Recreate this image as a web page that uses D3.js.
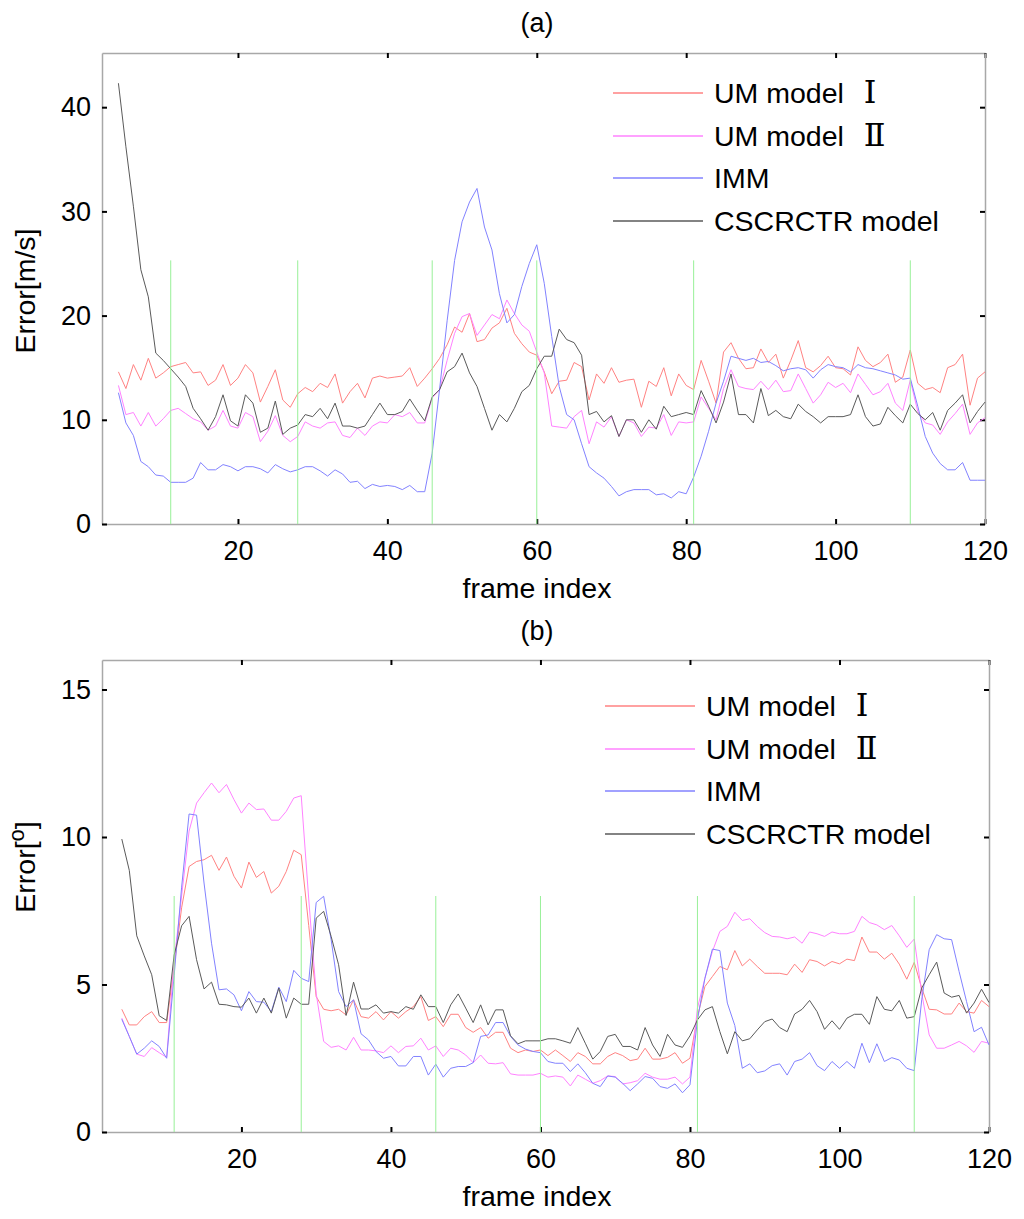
<!DOCTYPE html>
<html>
<head>
<meta charset="utf-8">
<script src="https://cdn.jsdelivr.net/npm/d3@7"></script>
<style>
  body { margin: 0; background: #fff; }
  text { font-family: "Liberation Sans", Arial, sans-serif; fill: #000; }
</style>
</head>
<body>
<script>
const width = 1024, height = 1219;

// frame index of every sample (4 .. 120)
const frames = d3.range(4, 121);
const switchFrames = [11, 28, 46, 60, 81, 110];
const seriesNames = ["UM model ", "UM model ", "IMM", "CSCRCTR model"];
const seriesRoman = ["Ⅰ", "Ⅱ", "", ""];
const seriesColors = ["#ff8282", "#ff82ff", "#8282ff", "#5a5a5a"];

// (a) velocity error [m/s]
const umIVel = [14.6, 13.0, 15.3, 13.8, 15.9, 14.0, 14.5, 15.1, 15.3, 15.5, 14.5, 14.6, 13.3, 13.8, 15.3, 13.3, 14.0, 15.3, 14.5, 11.7, 13.2,
  14.8, 11.9, 11.2, 12.5, 13.1, 12.7, 13.5, 13.1, 14.4, 11.6, 12.7, 13.5, 12.1, 14.0, 14.2, 14.0, 14.1, 14.2, 15.0, 13.2, 14.0,
  14.9, 15.9, 17.2, 18.9, 18.4, 20.2, 17.5, 17.7, 18.8, 19.3, 20.7, 18.3, 17.3, 16.5, 16.2, 14.6, 12.5, 13.7, 13.8, 15.5, 15.1,
  11.9, 14.4, 13.5, 15.0, 13.6, 13.8, 13.9, 11.2, 13.7, 13.2, 15.0, 12.3, 14.4,
  13.3, 12.9, 15.7, 13.7, 11.6, 16.5, 17.4, 15.9, 14.9, 15.0, 16.8, 15.5, 16.3, 14.0, 15.7, 17.6, 15.0, 14.6, 15.2, 16.1, 15.0,
  14.9, 14.3, 17.0, 15.7, 15.1, 15.5, 16.3, 13.6, 14.1, 16.7, 13.5, 12.9, 13.1, 12.6, 15.0, 15.3, 16.3, 11.4, 14.0, 14.6];
const umIIVel = [13.3, 10.5, 10.7, 9.4, 10.7, 9.4, 10.1, 10.9, 11.1, 10.6, 10.1, 9.8, 9.0, 9.4, 10.9, 9.4, 9.2, 10.7, 10.3, 7.9, 8.9,
  10.4, 8.5, 7.9, 8.4, 9.8, 9.4, 9.2, 9.7, 9.8, 8.5, 8.3, 9.2, 8.5, 9.4, 9.8, 9.7, 10.5, 10.3, 10.7, 9.7, 9.7,
  12.1, 12.9, 15.7, 18.3, 19.9, 20.2, 18.1, 19.1, 20.1, 19.7, 21.5, 20.2, 19.1, 18.5, 16.5, 14.5, 9.4, 9.3, 9.2, 10.3, 10.9,
  7.7, 9.8, 9.3, 10.3, 8.4, 10.0, 9.7, 8.4, 9.3, 9.2, 10.5, 8.5, 9.8,
  9.7, 9.8, 12.2, 11.1, 10.0, 13.0, 14.8, 13.2, 13.0, 12.9, 13.7, 12.9, 13.8, 12.7, 12.8, 14.4, 13.0, 11.6, 12.4, 13.6, 13.1,
  13.5, 12.6, 14.4, 13.4, 12.4, 12.7, 13.5, 11.6, 10.9, 13.8, 10.8, 9.7, 9.5, 8.6, 9.8, 10.6, 11.5, 8.6, 9.7, 10.2];
const immVel = [12.6, 9.7, 8.5, 6.0, 5.5, 4.7, 4.6, 4.0, 4.0, 4.0, 4.4, 5.9, 5.2, 5.2, 5.7, 5.5, 5.1, 5.5, 5.5, 5.3, 4.9,
  5.7, 5.3, 5.0, 5.2, 5.5, 5.5, 5.1, 4.6, 5.2, 4.8, 4.0, 4.1, 3.4, 3.8, 3.6, 3.7, 3.6, 3.3, 3.7, 3.1, 3.1,
  6.8, 13.0, 19.5, 25.3, 29.0, 30.9, 32.2, 28.5, 26.3, 22.1, 19.3, 20.1, 22.8, 25.0, 26.8, 23.1, 18.0, 13.2, 10.5, 10.0, 7.7,
  5.5, 4.9, 4.4, 3.6, 2.7, 3.1, 3.3, 3.3, 3.3, 2.8, 2.9, 2.5, 3.1,
  2.9, 4.5, 6.5, 8.9, 11.6, 13.7, 16.1, 15.9, 15.7, 15.9, 15.5, 15.6, 15.2, 14.7, 14.9, 15.0, 14.8, 14.0, 14.8, 15.3, 15.1,
  15.0, 14.6, 15.3, 15.0, 14.9, 14.7, 14.5, 14.3, 13.9, 14.0, 11.3, 8.4, 6.8, 5.8, 5.2, 5.2, 5.9, 4.2, 4.2, 4.2];
const cscVel = [42.3, 36.2, 30.5, 24.4, 21.8, 16.4, 15.7, 14.9, 14.1, 13.2, 11.1, 10.1, 9.0, 10.3, 12.4, 9.9, 9.4, 12.4, 11.6, 8.8, 9.2,
  11.8, 8.6, 9.2, 9.5, 10.5, 10.3, 11.1, 10.1, 11.6, 9.4, 9.4, 9.2, 9.4, 10.5, 11.6, 10.5, 10.5, 10.8, 12.0, 10.9, 9.9,
  12.2, 12.9, 14.6, 15.1, 16.4, 14.5, 13.2, 11.1, 9.0, 10.5, 9.8, 11.1, 12.7, 13.3, 14.9, 16.1, 16.1, 18.7, 17.7, 17.4, 16.2,
  10.5, 10.8, 9.8, 10.4, 8.4, 10.0, 10.0, 8.8, 10.0, 9.1, 11.3, 10.3, 10.5,
  10.7, 10.5, 12.8, 11.3, 9.7, 11.7, 14.4, 10.5, 10.5, 9.7, 13.0, 10.4, 10.9, 10.3, 10.1, 11.5, 10.8, 10.3, 9.7, 10.3, 10.3,
  10.3, 10.5, 12.4, 10.3, 9.4, 9.6, 11.2, 10.4, 9.7, 11.5, 10.6, 10.0, 10.7, 9.0, 10.9, 11.6, 12.4, 9.7, 10.8, 11.7];

// (b) angle error [deg]
const umIAng = [4.16, 3.63, 3.63, 3.91, 4.08, 3.71, 3.71, 5.6, 7.6, 9.0, 9.17, 9.23, 9.38, 8.87, 9.32, 8.67, 8.27, 9.15, 8.63, 8.83,
  8.10, 8.33, 8.83, 9.55, 9.40, 7.0, 4.59, 4.16, 4.11, 4.16, 3.97, 4.48, 3.91, 3.86, 4.08, 3.80, 4.08, 3.86, 4.08, 4.25, 4.59,
  3.78, 3.91, 3.57, 3.99, 3.99, 3.54, 3.38, 3.54, 3.18, 3.38, 3.38, 2.84, 2.69, 2.78, 2.73, 2.78, 2.59, 2.78, 2.59, 2.39, 2.69,
  2.56, 2.31, 2.31, 2.56, 2.69, 2.59, 2.42, 2.47, 2.84, 2.47, 2.47, 2.53, 2.69, 2.33,
  2.5, 3.91, 4.93, 5.27, 5.61, 5.50, 6.15, 5.63, 5.86, 5.61, 5.38, 5.38, 5.38, 5.33, 5.69, 5.41, 5.84, 5.78, 5.63, 5.78, 5.70,
  5.86, 5.81, 6.61, 6.10, 6.10, 5.86, 6.06, 5.69, 5.18, 5.75, 4.88, 4.16, 4.14, 4.00, 4.00, 4.37, 4.08, 4.03, 4.46, 4.25];
const umIIAng = [3.86, 3.24, 2.64, 2.56, 2.86, 2.69, 2.53, 5.8, 8.0, 10.2, 11.15, 11.5, 11.83, 11.5, 11.78, 11.27, 10.81, 11.15, 10.93,
  10.95, 10.57, 10.57, 10.87, 11.32, 11.40, 7.9, 4.7, 3.07, 2.87, 2.92, 2.78, 3.21, 2.78, 2.78, 2.75, 2.69, 2.92, 2.69, 2.90, 2.92, 3.18,
  2.78, 2.92, 2.56, 2.84, 2.78, 2.61, 2.35, 2.61, 2.33, 2.31, 2.35, 1.97, 1.93, 1.93, 1.93, 1.99, 1.86, 1.90, 1.86, 1.56, 1.93,
  1.79, 1.65, 1.74, 1.90, 1.88, 1.63, 1.67, 1.74, 1.99, 1.86, 1.79, 1.79, 1.86, 1.63,
  1.86, 4.2, 5.21, 6.12, 6.80, 6.97, 7.45, 7.17, 7.23, 6.97, 6.76, 6.63, 6.61, 6.55, 6.61, 6.40, 6.78, 6.72, 6.63, 6.78, 6.72,
  6.72, 6.80, 7.31, 7.10, 7.02, 6.86, 7.00, 6.65, 6.26, 6.54, 4.71, 3.29, 2.84, 2.84, 2.95, 3.07, 2.92, 2.70, 3.07, 3.01];
const immAng = [3.82, 3.24, 2.64, 2.84, 3.09, 2.90, 2.50, 5.3, 8.3, 10.78, 10.74, 8.44, 6.4, 4.82, 4.85, 4.65, 4.11, 4.76, 4.42, 4.40,
  4.08, 4.91, 4.42, 5.48, 5.21, 5.10, 7.78, 7.99, 6.52, 4.76, 4.25, 4.48, 3.33, 3.12, 2.73, 2.50, 2.56, 2.24, 2.24, 2.56, 2.56,
  1.93, 2.30, 1.86, 2.16, 2.22, 2.22, 2.35, 3.24, 3.29, 3.71, 3.71, 3.24, 2.95, 2.81, 2.73, 2.69, 2.39, 2.33, 2.33, 2.05, 2.31,
  2.01, 1.65, 1.54, 1.90, 1.86, 1.65, 1.40, 1.63, 1.88, 1.82, 1.54, 1.48, 1.63, 1.33,
  1.60, 3.8, 5.21, 6.20, 6.15, 4.37, 3.61, 2.16, 2.31, 2.01, 2.07, 2.25, 2.31, 1.93, 2.39, 2.47, 2.69, 2.25, 2.08, 2.39, 2.16,
  2.39, 2.16, 3.01, 2.35, 2.99, 2.39, 2.52, 2.44, 2.16, 2.08, 4.48, 6.18, 6.69, 6.55, 6.52, 5.44, 4.42, 3.40, 3.55, 2.95];
const cscAng = [9.93, 8.87, 6.65, 5.97, 5.33, 3.94, 3.78, 6.0, 6.99, 7.31, 5.84, 4.85, 5.08, 4.33, 4.31, 4.25, 4.23, 4.54, 4.03, 4.54,
  4.03, 4.88, 3.86, 4.54, 4.33, 4.33, 7.25, 7.48, 6.63, 5.67, 3.95, 5.08, 4.17, 4.17, 4.31, 4.03, 4.08, 4.03, 4.25, 4.16, 4.65,
  4.25, 4.25, 3.71, 4.31, 4.68, 4.20, 3.71, 4.31, 3.63, 4.14, 4.14, 3.26, 2.99, 3.09, 3.09, 3.09, 3.16, 3.16, 3.09, 3.01, 3.54,
  3.01, 2.47, 2.73, 3.24, 3.31, 2.90, 2.90, 2.78, 3.54, 2.95, 2.56, 3.31, 2.95, 2.87,
  3.26, 3.80, 4.14, 4.25, 3.40, 2.65, 3.40, 3.09, 3.16, 3.46, 3.74, 3.83, 3.54, 3.40, 4.00, 4.16, 4.46, 4.08, 3.48, 3.77, 3.48,
  3.86, 3.99, 3.99, 3.65, 4.59, 4.16, 4.11, 4.46, 3.86, 3.91, 4.88, 5.33, 5.76, 4.71, 4.57, 4.63, 4.03, 4.37, 4.84, 4.39];

const xTicks = [20, 40, 60, 80, 100, 120];
const velTicks = [0, 10, 20, 30, 40];
const angTicks = [0, 5, 10, 15];

const svg = d3.select("body").append("svg").attr("width", width).attr("height", height);

function drawPanel(p) {
  const g = svg.append("g");
  const x = d3.scaleLinear().domain(p.xDomain).range([102, p.right]);
  const y = d3.scaleLinear().domain(p.yDomain).range([p.bottom, p.top]);

  const styleAxis = (sel, labels) => {
    sel.select(".domain").attr("stroke", "#a8a8a8").attr("stroke-width", 1.5);
    sel.selectAll(".tick line").attr("stroke", "#000").attr("stroke-width", 2);
    sel.selectAll(".tick text").attr("font-size", 27).attr("fill", "#000")
      .attr("font-family", "Liberation Sans, Arial, sans-serif");
    if (!labels) sel.selectAll(".tick text").remove();
  };

  g.append("g").attr("transform", `translate(0,${p.bottom})`)
    .call(d3.axisBottom(x).tickValues(xTicks).tickSizeInner(-5).tickSizeOuter(0).tickPadding(17))
    .call(s => styleAxis(s, true));
  g.append("g").attr("transform", `translate(0,${p.top})`)
    .call(d3.axisTop(x).tickValues(xTicks).tickSizeInner(-5).tickSizeOuter(0))
    .call(s => styleAxis(s, false));
  g.append("g").attr("transform", "translate(102,0)")
    .call(d3.axisLeft(y).tickValues(p.yTicks).tickSizeInner(-5).tickSizeOuter(0).tickPadding(11))
    .call(s => styleAxis(s, true));
  g.append("g").attr("transform", `translate(${p.right},0)`)
    .call(d3.axisRight(y).tickValues(p.yTicks).tickSizeInner(-5).tickSizeOuter(0))
    .call(s => styleAxis(s, false));

  const line = vals => d3.line().x((d, i) => x(frames[i])).y(d => y(d))(vals);
  p.series.forEach((vals, k) => {
    g.append("path").attr("d", line(vals)).attr("fill", "none")
      .attr("stroke", seriesColors[k]).attr("stroke-width", 1);
  });

  g.append("g").selectAll("line").data(switchFrames).join("line")
    .attr("x1", d => x(d)).attr("x2", d => x(d))
    .attr("y1", y(0)).attr("y2", y(p.markHeight))
    .attr("stroke", "#98f098").attr("stroke-width", 1);

  // legend
  const lg = g.append("g").attr("transform", `translate(${p.legend[0]},${p.legend[1]})`);
  seriesNames.forEach((name, k) => {
    const row = lg.append("g").attr("transform", `translate(0,${Math.round(k * 42.5)})`);
    row.append("line").attr("x1", 0).attr("x2", 90).attr("y1", 0).attr("y2", 0)
      .attr("stroke", seriesColors[k]).attr("stroke-width", 1.6);
    const t = row.append("text").attr("x", 101).attr("y", 10).attr("font-size", 28.5).text(name);
    if (seriesRoman[k]) {
      t.append("tspan").attr("dx", 12)
        .attr("font-family", "Liberation Serif, DejaVu Serif, Noto Sans CJK SC, serif")
        .attr("font-size", 32).text(seriesRoman[k]);
    }
  });

  g.append("text").attr("x", 537).attr("y", p.titleY).attr("text-anchor", "middle")
    .attr("font-size", 27).text(p.title);
  g.append("text").attr("x", 537).attr("y", p.bottom + 74).attr("text-anchor", "middle")
    .attr("font-size", 28.5).text("frame index");
  const yl = g.append("text")
    .attr("transform", `translate(35,${p.labelY}) rotate(-90)`)
    .attr("text-anchor", "middle").attr("font-size", 28.5).text("Error[");
  if (p.degree) {
    yl.append("tspan").attr("dy", -11).attr("font-size", 22).text("o");
    yl.append("tspan").attr("dy", 11).text("]");
  } else {
    yl.append("tspan").text("m/s]");
  }
}

drawPanel({
  xDomain: [1.8, 120], yDomain: [0, 45.2], right: 985, top: 53, bottom: 524,
  yTicks: velTicks, series: [umIVel, umIIVel, immVel, cscVel], markHeight: 25.3,
  legend: [613, 93], title: "(a)", titleY: 32, labelY: 291, degree: false
});
drawPanel({
  xDomain: [1.35, 120], yDomain: [0, 16], right: 989, top: 660, bottom: 1132,
  yTicks: angTicks, series: [umIAng, umIIAng, immAng, cscAng], markHeight: 8,
  legend: [605, 706], title: "(b)", titleY: 640, labelY: 867, degree: true
});
</script>
</body>
</html>
